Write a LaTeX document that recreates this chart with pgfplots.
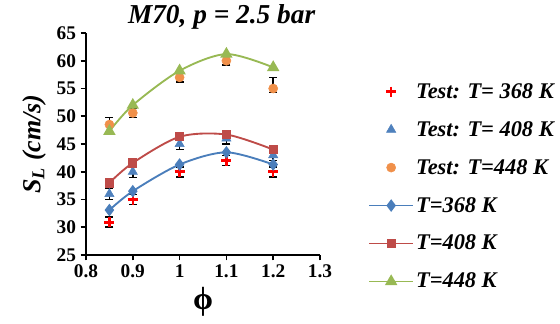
\documentclass[border=0pt]{standalone}
\usepackage{pgfplots}
\pgfplotsset{compat=1.18}
\usepackage{fontspec}
\setmainfont{Liberation Serif}
\definecolor{tblue}{HTML}{4F81BD}
\definecolor{torange}{HTML}{F0904A}
\definecolor{lblue}{HTML}{4A7EBB}
\definecolor{lred}{HTML}{BE4B48}
\definecolor{lgreen}{HTML}{98B954}
\begin{document}
\begin{tikzpicture}
\path[use as bounding box] (-64.5pt,-51.75pt) rectangle (355.5pt,191.25pt);
\begin{axis}[
  at={(0,0)}, anchor=south west,
  scale only axis, width=175.5pt, height=166.5pt,
  xmin=0.8, xmax=1.3, ymin=25, ymax=65,
  xtick={0.8,0.9,1.0,1.1,1.2,1.3},
  xticklabels={0.8,0.9,1,1.1,1.2,1.3},
  ytick={25,30,...,65},
  axis lines=left, axis line style={-, line width=1.4pt},
  tick style={black, line width=1.2pt}, tick align=outside, major tick length=4pt,
  /pgf/number format/assume math mode=true,
  tick label style={font=\fontsize{14.5}{16}\selectfont\bfseries},
  title={\textbf{\textit{M70, p = 2.5 bar}}},
  title style={at={(0.58,1)}, anchor=center, yshift=6pt, font=\fontsize{20.5}{22}\selectfont},
  every axis y label/.style={at={(axis description cs:0,0.5)}, xshift=-39pt, rotate=90, anchor=center},
  ylabel={\fontsize{19.5}{21}\selectfont\bfseries\itshape S\textsubscript{L} (cm/s)},
  every axis x label/.style={at={(axis description cs:0.5,0)}, yshift=-35pt, anchor=center},
  xlabel={\fontsize{24}{26}\selectfont\bfseries ϕ},
  legend image code/.code={\draw[mark repeat=2,mark phase=2,#1] plot coordinates {(0pt,0pt) (16.5pt,0pt) (33pt,0pt)};},
  legend style={at={(1.205,0.784)}, anchor=north west, draw=none, fill=none, inner sep=0pt,
    row sep=12.8pt, font=\fontsize{16.8}{18}\selectfont\bfseries\itshape, cells={anchor=west},
    nodes={inner sep=1.5pt}},
  clip=false,
  error bars/y dir=both, error bars/y explicit,
]
% Test data
\addplot[only marks, mark=+, mark size=3.8pt, red, line width=1.9pt,
  error bars/error bar style={black, line width=1.2pt}, error bars/error mark options={black, rotate=90, mark size=3pt, line width=1.2pt}]
  coordinates {(0.85,30.9) +- (0,0.9) (0.9,35) +- (0,0.9) (1.0,40) +- (0,0.9) (1.1,42) +- (0,0.9) (1.2,40) +- (0,0.9)};
\addlegendentry{Test: T= 368 K}
\addplot[only marks, mark=triangle*, mark size=4pt, tblue,
  error bars/error bar style={black, line width=1.2pt}, error bars/error mark options={black, rotate=90, mark size=3pt, line width=1.2pt}]
  coordinates {(0.85,36) +- (0,1) (0.9,40) +- (0,1) (1.0,45) +- (0,1) (1.1,46) +- (0,1) (1.2,43) +- (0,1)};
\addlegendentry{Test: T= 408 K}
\addplot[only marks, mark=*, mark size=3.4pt, torange,
  error bars/error bar style={black, line width=1.2pt}, error bars/error mark options={black, rotate=90, mark size=3pt, line width=1.2pt}]
  coordinates {(0.85,48.5) +- (0,1.3) (0.9,50.6) +- (0,0.8) (1.0,57) +- (0,0.8) (1.1,60) +- (0,0.8) (1.2,55) += (0,2) -= (0,0.7)};
\addlegendentry{Test: T=448 K}
% Model lines
\addplot[smooth, lblue, line width=1.4pt, mark=diamond*, mark size=3.6pt, mark options={fill=lblue}]
  coordinates {(0.85,33.1) (0.9,36.5) (1.0,41.3) (1.1,43.5) (1.2,41.3)};
\addlegendentry{T=368 K}
\addplot[smooth, lred, line width=1.4pt, mark=square*, mark size=2.8pt]
  coordinates {(0.85,38) (0.9,41.6) (1.0,46.3) (1.1,46.7) (1.2,44)};
\addlegendentry{T=408 K}
\addplot[smooth, lgreen, line width=1.4pt, mark=triangle*, mark size=4pt]
  coordinates {(0.85,47.3) (0.9,52) (1.0,58.2) (1.1,61.2) (1.2,58.8)};
\addlegendentry{T=448 K}
\end{axis}
\end{tikzpicture}
\end{document}
